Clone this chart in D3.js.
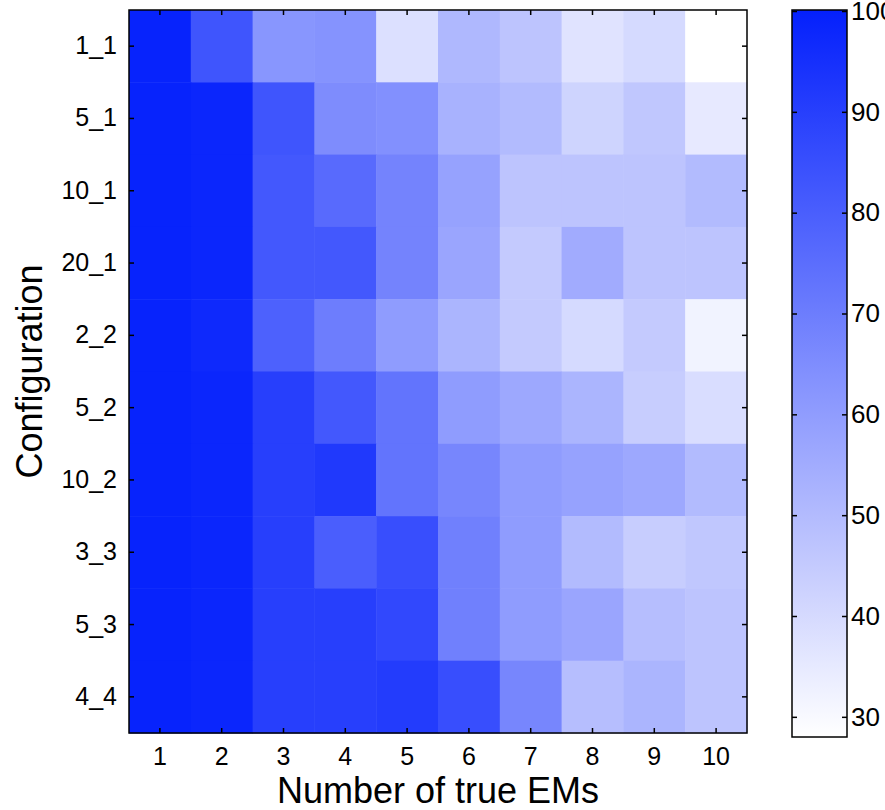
<!DOCTYPE html>
<html>
<head>
<meta charset="utf-8">
<script src="https://cdn.jsdelivr.net/npm/d3@7"></script>
<style>
  body { margin: 0; background: #fff; }
  svg { display: block; font-family: "Liberation Sans", Arial, Helvetica, sans-serif; }
</style>
</head>
<body>
<div id="chart"></div>
<script>
const configs = ["1_1", "5_1", "10_1", "20_1", "2_2", "5_2", "10_2", "3_3", "5_3", "4_4"];
const nEMs = [1, 2, 3, 4, 5, 6, 7, 8, 9, 10];

// one row per configuration, one value per number of true EMs
const row_1_1  = [99, 83, 62, 63, 38, 51, 47, 37, 40, 28];
const row_5_1  = [99, 98, 83, 65, 64, 53, 50, 42, 46, 35];
const row_10_1 = [99, 98, 82, 76, 68, 58, 47, 47, 47, 50];
const row_20_1 = [99, 98, 82, 82, 68, 57, 45, 55, 47, 47];
const row_2_2  = [99, 97, 79, 70, 60, 52, 45, 40, 45, 32];
const row_5_2  = [99, 98, 90, 82, 73, 60, 56, 52, 44, 39];
const row_10_2 = [99, 98, 90, 92, 73, 67, 60, 58, 56, 50];
const row_3_3  = [99, 98, 90, 80, 85, 69, 60, 50, 44, 46];
const row_5_3  = [99, 98, 90, 90, 87, 69, 60, 57, 49, 47];
const row_4_4  = [99, 98, 90, 90, 91, 85, 67, 49, 52, 47];
const rows = [row_1_1, row_5_1, row_10_1, row_20_1, row_2_2, row_5_2, row_10_2, row_3_3, row_5_3, row_4_4];

const cbTicks = [30, 40, 50, 60, 70, 80, 90, 100];
const cbDomain = [28, 100];

const width = 885, height = 810;
const plot = { left: 129, right: 747, top: 10, bottom: 733 };
const cb = { left: 792, right: 847, top: 10, bottom: 737 };

const cells = [];
rows.forEach((r, i) => r.forEach((v, j) => cells.push({ config: configs[i], n: nEMs[j], value: v })));

const svg = d3.select("#chart").append("svg")
    .attr("width", width)
    .attr("height", height);

const x = d3.scaleBand().domain(nEMs).range([plot.left, plot.right]);
const y = d3.scaleBand().domain(configs).range([plot.top, plot.bottom]);
const color = d3.scaleLinear().domain(cbDomain).range(["#ffffff", "rgb(4,32,252)"]).clamp(true);

svg.append("g")
    .selectAll("rect")
    .data(cells)
    .join("rect")
    .attr("x", d => x(d.n))
    .attr("y", d => y(d.config))
    .attr("width", x.bandwidth() + 0.5)
    .attr("height", y.bandwidth() + 0.5)
    .attr("fill", d => color(d.value));

// axes with inward ticks
const fontTick = 25;
const axisB = svg.append("g")
    .attr("transform", `translate(0,${plot.bottom})`)
    .call(d3.axisBottom(x).tickSizeInner(-5).tickSizeOuter(0).tickPadding(14));
const axisT = svg.append("g")
    .attr("transform", `translate(0,${plot.top})`)
    .call(d3.axisTop(x).tickSizeInner(-5).tickSizeOuter(0).tickFormat(""));
const axisL = svg.append("g")
    .attr("transform", `translate(${plot.left},0)`)
    .call(d3.axisLeft(y).tickSizeInner(-5).tickSizeOuter(0).tickPadding(12));
const axisR = svg.append("g")
    .attr("transform", `translate(${plot.right},0)`)
    .call(d3.axisRight(y).tickSizeInner(-5).tickSizeOuter(0).tickFormat(""));

[axisB, axisT, axisL, axisR].forEach(a => {
    a.select(".domain").remove();
    a.selectAll(".tick line").attr("stroke", "#000").attr("stroke-width", 1.5);
    a.selectAll(".tick text").attr("font-size", fontTick).attr("fill", "#000")
        .attr("font-family", "Liberation Sans, Arial, sans-serif");
});

svg.append("rect")
    .attr("x", plot.left).attr("y", plot.top)
    .attr("width", plot.right - plot.left).attr("height", plot.bottom - plot.top)
    .attr("fill", "none").attr("stroke", "#000").attr("stroke-width", 1.5);

// titles
svg.append("text")
    .attr("x", (plot.left + plot.right) / 2)
    .attr("y", 803)
    .attr("text-anchor", "middle")
    .attr("font-size", 36)
    .text("Number of true EMs");

svg.append("text")
    .attr("transform", `translate(42,${(plot.top + plot.bottom) / 2}) rotate(-90)`)
    .attr("text-anchor", "middle")
    .attr("font-size", 36)
    .text("Configuration");

// colorbar
const defs = svg.append("defs");
const grad = defs.append("linearGradient")
    .attr("id", "cbgrad")
    .attr("x1", 0).attr("y1", 1).attr("x2", 0).attr("y2", 0);
d3.range(0, 1.0001, 0.1).forEach(t => {
    grad.append("stop")
        .attr("offset", t)
        .attr("stop-color", color(cbDomain[0] + t * (cbDomain[1] - cbDomain[0])));
});

const cbScale = d3.scaleLinear().domain(cbDomain).range([cb.bottom, 11]);

svg.append("rect")
    .attr("x", cb.left).attr("y", cb.top)
    .attr("width", cb.right - cb.left).attr("height", cb.bottom - cb.top)
    .attr("fill", "url(#cbgrad)");

const cbAxisR = svg.append("g")
    .attr("transform", `translate(${cb.right},0)`)
    .call(d3.axisRight(cbScale).tickValues(cbTicks).tickSizeInner(-5).tickSizeOuter(0).tickPadding(4));
const cbAxisL = svg.append("g")
    .attr("transform", `translate(${cb.left},0)`)
    .call(d3.axisLeft(cbScale).tickValues(cbTicks).tickSizeInner(-5).tickSizeOuter(0).tickFormat(""));

[cbAxisR, cbAxisL].forEach(a => {
    a.select(".domain").remove();
    a.selectAll(".tick line").attr("stroke", "#000").attr("stroke-width", 1.5);
    a.selectAll(".tick text").attr("font-size", 26).attr("fill", "#000")
        .attr("font-family", "Liberation Sans, Arial, sans-serif");
});

svg.append("rect")
    .attr("x", cb.left).attr("y", cb.top)
    .attr("width", cb.right - cb.left).attr("height", cb.bottom - cb.top)
    .attr("fill", "none").attr("stroke", "#000").attr("stroke-width", 1.5);
</script>
</body>
</html>
